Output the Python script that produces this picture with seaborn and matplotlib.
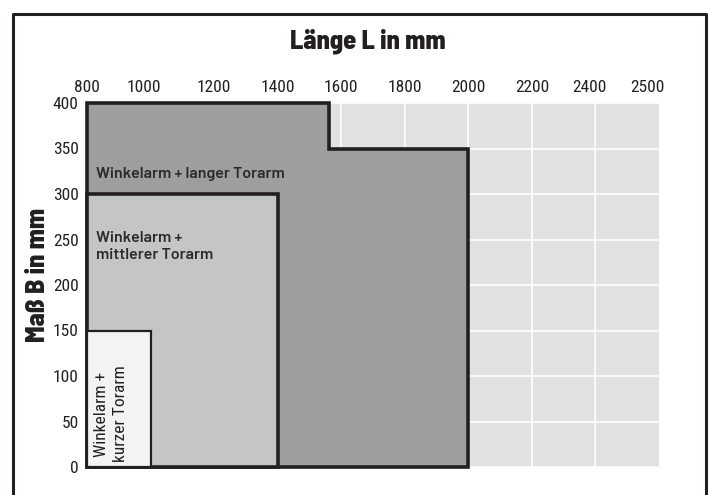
import matplotlib
matplotlib.use("Agg")
import matplotlib.pyplot as plt
import matplotlib.transforms as mtransforms
import seaborn as sns

# ---- data ----
x_ticks = [800, 1000, 1200, 1400, 1600, 1800, 2000, 2200, 2400, 2500]
y_ticks = [0, 50, 100, 150, 200, 250, 300, 350, 400]

lang_L = [800, 1560, 1560, 2000]
lang_B = [400, 400, 350, 350]
mittel_L = [800, 1400]
mittel_B = [300, 300]
kurz_L = [800, 1000]
kurz_B = [150, 150]

label_lang = "Winkelarm + langer Torarm"
label_mittel = "Winkelarm +\nmittlerer Torarm"
label_kurz = "Winkelarm +\nkurzer Torarm"

sns.set_theme(style="darkgrid", rc={"axes.facecolor": "#e0e1e3", "grid.color": "white",
                                    "grid.linewidth": 1.2})
narrow = ["Roboto Condensed", "DejaVu Sans"]
din = ["Barlow Semi Condensed", "DejaVu Sans"]
din_txt = ["Barlow", "DejaVu Sans"]
plt.rcParams["font.family"] = narrow

fig = plt.figure(figsize=(7.11, 4.95), dpi=100)
fig.patch.set_facecolor("white")
ax = fig.add_axes([87/711, 1-467/495, (659-87)/711, (467-103)/495])
ax.set_xlim(800, 2600)
ax.set_ylim(0, 400)

def poly(L, B):
    xs = [L[0]] + list(L) + [L[-1], L[0]]
    ys = [0] + list(B) + [0, 0]
    return xs, ys

edge = "#231f20"
for L, B, fc, lw, z in [(lang_L, lang_B, "#9d9ea0", 2.6, 3),
                        (mittel_L, mittel_B, "#c4c5c7", 2.6, 4),
                        (kurz_L, kurz_B, "#f2f3f2", 1.6, 5)]:
    xs, ys = poly(L, B)
    ax.fill(xs, ys, facecolor=fc, edgecolor=edge, linewidth=lw, zorder=z,
            clip_on=False, joinstyle="miter")

ax.xaxis.tick_top()
ax.set_xticks(x_ticks)
ax.set_xticklabels([str(v) for v in x_ticks], fontsize=12.5, color="#231f20")
ax.set_yticks(y_ticks)
ax.set_yticklabels([str(v) for v in y_ticks], fontsize=12.5, color="#231f20")
ax.tick_params(axis="both", length=0, pad=6)
ax.set_axisbelow(True)
# only 200 mm steps carry grid lines
for tick, gl in zip(x_ticks, ax.get_xgridlines()):
    if tick % 200:
        gl.set_visible(False)
# label nudges as in the printed scale (pixels)
nudge = {1000: -7, 2400: -6, 2500: 20}
for tick, lab in zip(x_ticks, ax.get_xticklabels()):
    if tick in nudge:
        lab.set_transform(lab.get_transform() +
                          mtransforms.ScaledTranslation(nudge[tick] / 100, 0, fig.dpi_scale_trans))
for s in ax.spines.values():
    s.set_visible(False)

ann = dict(color="#2b2b2b", fontsize=11.5, fontweight="semibold", family=din_txt, zorder=10)
ax.text(829, 322, label_lang, va="center", ha="left", **ann)
ax.text(829, 242, label_mittel, va="center", ha="left", linespacing=1.25, **ann)
ax.text(876, 5, label_kurz, va="bottom", ha="center", rotation=90, linespacing=1.3,
        color="#231f20", fontsize=12.5, family=narrow, zorder=10)

fig.text(368/711, 1-41/495, "Länge L in mm", ha="center", va="center",
         fontsize=19, fontweight="heavy", color="#231f20", family=din)
fig.text(38/711, 1-275/495, "Maß B in mm", ha="center", va="center", rotation=90,
         fontsize=19, fontweight="heavy", color="#231f20", family=din)

# outer frame (no bottom edge)
fig.add_artist(plt.Line2D([13/711, 13/711, 706/711, 706/711],
                          [0, 1-14/495, 1-14/495, 0], transform=fig.transFigure,
                          color="#231f20", linewidth=2.2))

fig.savefig("out.png", dpi=100)
